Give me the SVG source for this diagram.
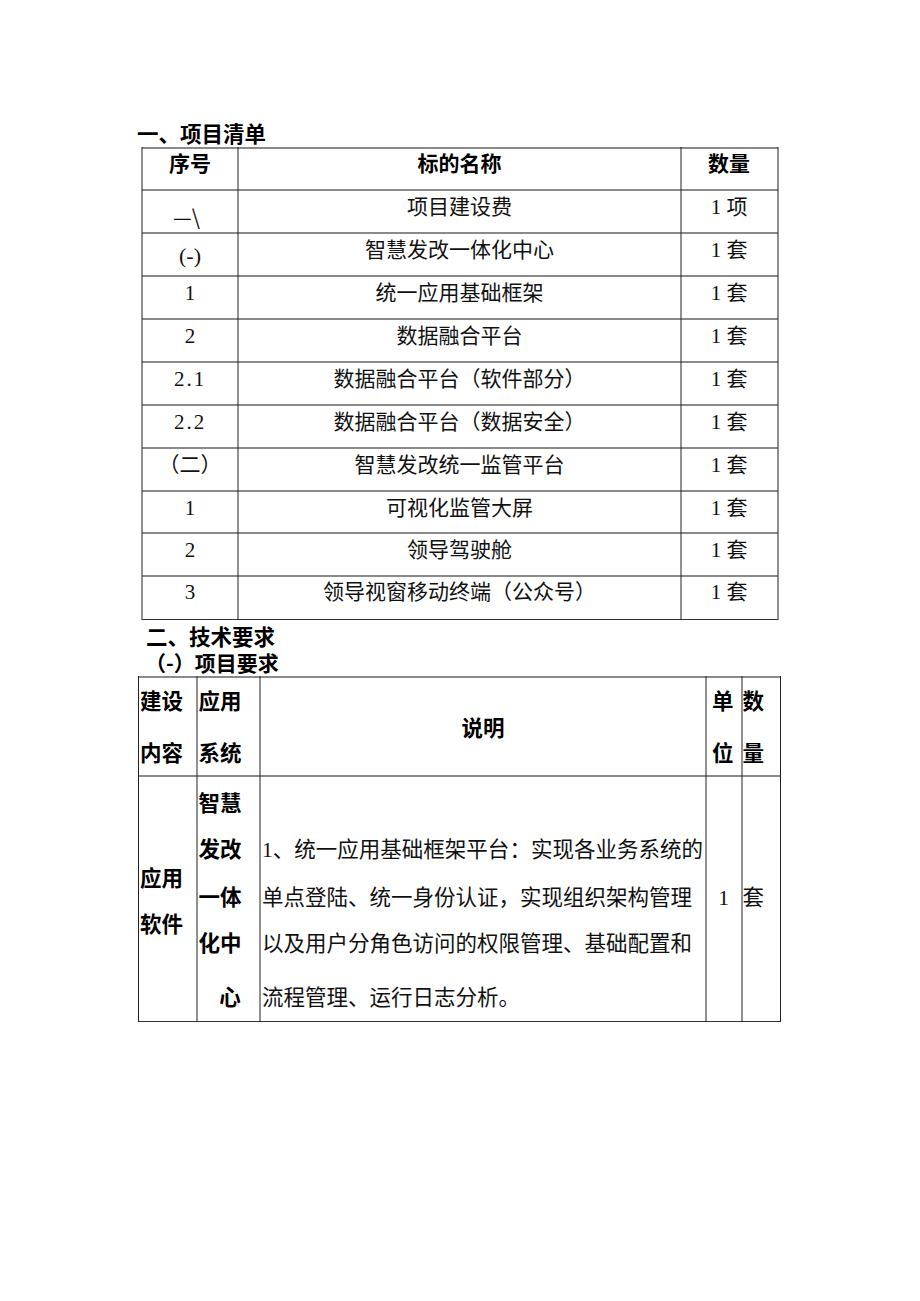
<svg xmlns="http://www.w3.org/2000/svg" width="920" height="1301" viewBox="0 0 920 1301">
<style>
text { font-family: "Liberation Serif", "Noto Sans CJK SC", serif; fill: #111; }
.b { font-family: "Noto Sans CJK SC", sans-serif; font-weight: bold; fill: #000; }
.cj { font-family: "Noto Sans CJK SC", sans-serif; }
.t1 { font-size: 21px; }
.t2 { font-size: 21.5px; }
.h { font-size: 21.5px; }
.m { text-anchor: middle; }
.hl { stroke: #8a8a8a; stroke-width: 2; }
.vl { stroke: #222; stroke-width: 1; }
</style>
<rect width="920" height="1301" fill="#fff"/>

<g id="heading1"><text class="b h" x="137" y="142">一、项目清单</text></g>

<g id="table1-lines">
  <line class="hl" x1="142" y1="148" x2="778" y2="148"/>
  <line class="hl" x1="142" y1="190" x2="778" y2="190"/>
  <line class="hl" x1="142" y1="233" x2="778" y2="233"/>
  <line class="hl" x1="142" y1="276" x2="778" y2="276"/>
  <line class="hl" x1="142" y1="319" x2="778" y2="319"/>
  <line class="hl" x1="142" y1="362" x2="778" y2="362"/>
  <line class="hl" x1="142" y1="405" x2="778" y2="405"/>
  <line class="hl" x1="142" y1="448" x2="778" y2="448"/>
  <line class="hl" x1="142" y1="491" x2="778" y2="491"/>
  <line class="hl" x1="142" y1="533" x2="778" y2="533"/>
  <line class="hl" x1="142" y1="576" x2="778" y2="576"/>
  <line x1="142" y1="619.5" x2="778" y2="619.5" stroke="#333" stroke-width="1.2"/>
  <line class="vl" x1="142" y1="147" x2="142" y2="620"/>
  <line class="vl" x1="238" y1="147" x2="238" y2="620"/>
  <line class="vl" x1="681" y1="147" x2="681" y2="620"/>
  <line class="vl" x1="778" y1="147" x2="778" y2="620"/>
</g>

<g id="t1-header">
  <text class="b t1 m" x="190" y="170.5">序号</text>
  <text class="b t1 m" x="459.5" y="170.5">标的名称</text>
  <text class="b t1 m" x="729" y="170.5">数量</text>
</g>
<g id="t1-row1">
  <text class="cj" x="173" y="225" font-size="21">—\</text>
  <text class="t1 m" x="459.5" y="213.5">项目建设费</text>
  <text class="t1 m" x="729" y="213.5">1 项</text>
</g>
<g id="t1-row2">
  <text class="m" x="190" y="263" font-size="22">(-)</text>
  <text class="t1 m" x="459.5" y="256.5">智慧发改一体化中心</text>
  <text class="t1 m" x="729" y="256.5">1 套</text>
</g>
<g id="t1-row3">
  <text class="t1 m" x="190" y="299.5">1</text>
  <text class="t1 m" x="459.5" y="299.5">统一应用基础框架</text>
  <text class="t1 m" x="729" y="299.5">1 套</text>
</g>
<g id="t1-row4">
  <text class="t1 m" x="190" y="342.5">2</text>
  <text class="t1 m" x="459.5" y="342.5">数据融合平台</text>
  <text class="t1 m" x="729" y="342.5">1 套</text>
</g>
<g id="t1-row5">
  <text class="t1 m" x="190" y="385.5" letter-spacing="2">2.1</text>
  <text class="t1 m" x="459.5" y="385.5">数据融合平台（软件部分）</text>
  <text class="t1 m" x="729" y="385.5">1 套</text>
</g>
<g id="t1-row6">
  <text class="t1 m" x="190" y="428.5" letter-spacing="2">2.2</text>
  <text class="t1 m" x="459.5" y="428.5">数据融合平台（数据安全）</text>
  <text class="t1 m" x="729" y="428.5">1 套</text>
</g>
<g id="t1-row7">
  <text class="t1 m" x="190" y="471.5">（二）</text>
  <text class="t1 m" x="459.5" y="471.5">智慧发改统一监管平台</text>
  <text class="t1 m" x="729" y="471.5">1 套</text>
</g>
<g id="t1-row8">
  <text class="t1 m" x="190" y="514.5">1</text>
  <text class="t1 m" x="459.5" y="514.5">可视化监管大屏</text>
  <text class="t1 m" x="729" y="514.5">1 套</text>
</g>
<g id="t1-row9">
  <text class="t1 m" x="190" y="556.5">2</text>
  <text class="t1 m" x="459.5" y="556.5">领导驾驶舱</text>
  <text class="t1 m" x="729" y="556.5">1 套</text>
</g>
<g id="t1-row10">
  <text class="t1 m" x="190" y="599">3</text>
  <text class="t1 m" x="459.5" y="599">领导视窗移动终端（公众号）</text>
  <text class="t1 m" x="729" y="599">1 套</text>
</g>

<g id="heading2"><text class="b" x="146" y="644.5" font-size="21.5">二、技术要求</text></g>
<g id="heading3"><text class="b" x="145" y="670.5" font-size="21">（-）项目要求</text></g>

<g id="table2-lines">
  <line class="hl" x1="138" y1="677" x2="781" y2="677"/>
  <line class="hl" x1="138" y1="776" x2="781" y2="776"/>
  <line x1="138" y1="1021.5" x2="781" y2="1021.5" stroke="#333" stroke-width="1.2"/>
  <line class="vl" x1="138.5" y1="676" x2="138.5" y2="1022"/>
  <line class="vl" x1="197" y1="676" x2="197" y2="1022"/>
  <line class="vl" x1="260" y1="676" x2="260" y2="1022"/>
  <line class="vl" x1="706" y1="676" x2="706" y2="1022"/>
  <line class="vl" x1="742" y1="676" x2="742" y2="1022"/>
  <line class="vl" x1="780.5" y1="676" x2="780.5" y2="1022"/>
</g>

<g id="t2-header">
  <text class="b t2" x="140" y="709">建设</text>
  <text class="b t2" x="140" y="760.5">内容</text>
  <text class="b t2" x="198.5" y="709">应用</text>
  <text class="b t2" x="198.5" y="760.5">系统</text>
  <text class="b t2 m" x="483" y="735.5">说明</text>
  <text class="b t2" x="712" y="709">单</text>
  <text class="b t2" x="712" y="760.5">位</text>
  <text class="b t2" x="742.5" y="709">数</text>
  <text class="b t2" x="742.5" y="760.5">量</text>
</g>
<g id="t2-row1">
  <text class="b t2" x="140" y="885.5">应用</text>
  <text class="b t2" x="140" y="931.5">软件</text>
  <text class="b t2" x="198.5" y="810.5">智慧</text>
  <text class="b t2" x="198.5" y="857">发改</text>
  <text class="b t2" x="198.5" y="904.5">一体</text>
  <text class="b t2" x="198.5" y="950.5">化中</text>
  <text class="b t2 m" x="230" y="1005">心</text>
  <text class="t2" x="262" y="857" textLength="441" lengthAdjust="spacing">1、统一应用基础框架平台：实现各业务系统的</text>
  <text class="t2" x="262" y="904.5">单点登陆、统一身份认证，实现组织架构管理</text>
  <text class="t2" x="262" y="950.5">以及用户分角色访问的权限管理、基础配置和</text>
  <text class="t2" x="262" y="1005">流程管理、运行日志分析。</text>
  <text class="t2 m" x="723.5" y="904.5">1</text>
  <text class="t2" x="742.5" y="904.5">套</text>
</g>
</svg>
